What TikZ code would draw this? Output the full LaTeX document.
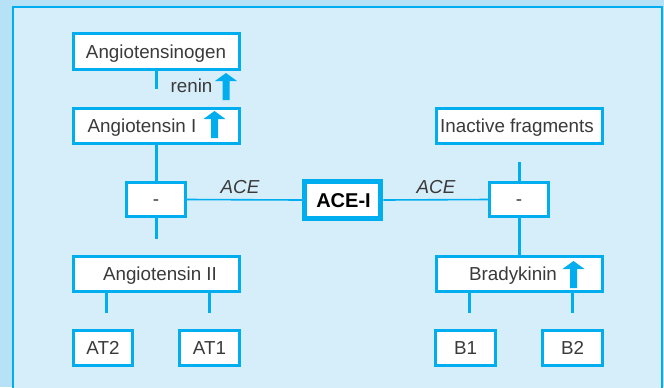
\documentclass[tikz,border=0pt]{standalone}
\usepackage{fontspec}
\setmainfont{Liberation Sans}
\definecolor{cy}{HTML}{00AEEF}
\definecolor{outerbg}{HTML}{B6E1F7}
\definecolor{innerbg}{HTML}{D6EDFA}
\definecolor{txt}{HTML}{3A3A3A}
\begin{document}
\begin{tikzpicture}[x=0.5pt,y=-0.5pt,
  box/.style={draw=cy, fill=white, line width=1.5pt, inner sep=0pt, minimum height=17.5pt},
  wide/.style={box, minimum width=83pt},
  small/.style={box, minimum width=29.5pt},
  lbl/.style={text=txt, font=\fontsize{9.4}{11}\selectfont, inner sep=0pt, anchor=base},
  conn/.style={draw=cy, line width=1.5pt},
  thin/.style={draw=cy, line width=0.8pt},
  uparrow/.pic={\fill[cy] (0,0) -- (11,8) -- (3.5,8) -- (3.5,27) -- (-3.5,27) -- (-3.5,8) -- (-11,8) -- cycle;}
]
\useasboundingbox (0,0) rectangle (664,387);
\fill[outerbg] (0,0) rectangle (664,387);
\filldraw[fill=innerbg, draw=cy, line width=1pt] (13,7) rectangle (662,400);

% boxes
\node[wide, minimum height=18pt] (ag) at (156.5,51.5) {};
\node[lbl] (agt) at (156,58) {Angiotensinogen};
\node[wide] (a1) at (156.5,126) {};
\node[lbl] (a1t) at (142,132.5) {Angiotensin I};
\node[small, minimum height=17pt] (m1) at (156,199.5) {};
\node[lbl] (m1t) at (156,205) {-};
\node[wide] (a2) at (156.5,274) {};
\node[lbl] (a2t) at (160,280.5) {Angiotensin II};
\node[small] (at2) at (103,348) {};
\node[lbl] (at2t) at (103,354.5) {AT2};
\node[small, minimum width=30pt] (at1) at (209.5,348) {};
\node[lbl] (at1t) at (209.5,354.5) {AT1};

\node[draw=cy, fill=white, line width=2.5pt, minimum width=38.25pt, minimum height=18.5pt, inner sep=0pt] (ace) at (342.5,200) {};
\node[font=\fontsize{10}{12}\selectfont\bfseries, text=black, inner sep=0pt, anchor=base] (acet) at (343.5,207) {ACE-I};

\node[small, minimum height=17pt] (m2) at (519,199.5) {};
\node[lbl] (m2t) at (519,205) {-};
\node[wide] (inf) at (519,126) {};
\node[lbl] (inft) at (517,132.5) {Inactive fragments};
\node[wide] (bk) at (519,274) {};
\node[lbl] (bkt) at (513,280.5) {Bradykinin};
\node[small, minimum width=30pt] (b1) at (465.5,348) {};
\node[lbl] (b1t) at (465.5,354.5) {B1};
\node[small, minimum width=30pt] (b2) at (572.5,348) {};
\node[lbl] (b2t) at (572.5,354.5) {B2};

% labels
\node[lbl] (renin) at (191.5,92.5) {renin};
\node[lbl, font=\fontsize{9.4}{11}\selectfont\itshape] (acel) at (240,193) {ACE};
\node[lbl, font=\fontsize{9.4}{11}\selectfont\itshape] (acer) at (436,193) {ACE};

% arrows
\pic at (226,73) {uparrow};
\pic at (214.5,111) {uparrow};
\pic at (573.5,261) {uparrow};

% free ends
\coordinate (e1) at (156,89);
\coordinate (e2) at (156,239);
\coordinate (e3) at (519,162);
\coordinate (e4) at (106.5,313);
\coordinate (e5) at (209,313);
\coordinate (e6) at (469,313);
\coordinate (e7) at (572,313);

% connectors
\draw[conn] (ag.south -| e1) -- (e1);
\draw[conn] (a1.south -| m1.north) -- (m1.north);
\draw[conn] (m1.south) -- (e2);
\draw[conn] (m2.north) -- (e3);
\draw[conn] (m2.south) -- (bk.north);
\draw[conn] (a2.south -| e4) -- (e4);
\draw[conn] (a2.south -| e5) -- (e5);
\draw[conn] (bk.south -| e6) -- (e6);
\draw[conn] (bk.south -| e7) -- (e7);
\draw[thin] (m1.east) -- (ace.west);
\draw[thin] (ace.east) -- (m2.west);
\end{tikzpicture}
\end{document}
